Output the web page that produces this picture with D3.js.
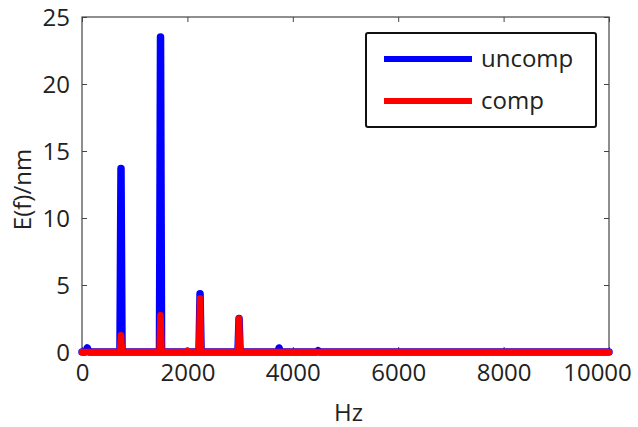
<!DOCTYPE html>
<html><head><meta charset="utf-8">
<script src="https://cdn.jsdelivr.net/npm/d3@7"></script>
<style>
html,body{margin:0;padding:0;background:#fff;}
svg text{font-family:"Open Sans","Noto Sans",sans-serif;fill:#222;}
</style></head>
<body><svg id="chart" width="638" height="427"></svg>
<script>
// ---- data ----
const seriesNames = ["uncomp", "comp"];
const freqUncomp = [0, 70, 100, 130, 720, 740, 760, 1470, 1490, 1510, 2220, 2240, 2260, 2960, 2980, 3000, 3720, 3740, 3760, 4460, 4480, 4500, 10000];
const valUncomp  = [0, 0, 0.3, 0, 0, 13.7, 0, 0, 23.5, 0, 0, 4.35, 0, 0, 2.5, 0, 0, 0.3, 0, 0, 0.1, 0, 0];
const freqComp   = [0, 720, 740, 760, 1470, 1490, 1510, 1990, 2000, 2010, 2220, 2240, 2260, 2960, 2980, 3000, 10000];
const valComp    = [0, 0, 1.25, 0, 0, 2.75, 0, 0, 0.1, 0, 0, 4.0, 0, 0, 2.5, 0, 0];
const xTicks = [0, 2000, 4000, 6000, 8000, 10000];
const yTicks = [0, 5, 10, 15, 20, 25];
const xLabel = "Hz";
const yLabel = "E(f)/nm";

const svg = d3.select("#chart");
const L = 82, R = 609, T = 17, B = 352;
const x = d3.scaleLinear().domain([0, 10000]).range([L, R]);
const y = d3.scaleLinear().domain([0, 25]).range([B, T]);

// box
svg.append("rect").attr("x", L).attr("y", T).attr("width", R - L).attr("height", B - T)
  .attr("fill", "none").attr("stroke", "#444").attr("stroke-width", 1.2);

// axes (ticks inward)
const fmt = d3.format("d");
const gx = svg.append("g").attr("transform", `translate(0,${B})`)
  .call(d3.axisBottom(x).tickValues(xTicks).tickFormat(fmt).tickSizeInner(-5).tickSizeOuter(0).tickPadding(12));
const gxt = svg.append("g").attr("transform", `translate(0,${T})`)
  .call(d3.axisTop(x).tickValues(xTicks).tickFormat("").tickSizeInner(-5).tickSizeOuter(0));
const gy = svg.append("g").attr("transform", `translate(${L},0)`)
  .call(d3.axisLeft(y).tickValues(yTicks).tickFormat(fmt).tickSizeInner(-5).tickSizeOuter(0).tickPadding(12));
const gyr = svg.append("g").attr("transform", `translate(${R},0)`)
  .call(d3.axisRight(y).tickValues(yTicks).tickFormat("").tickSizeInner(-5).tickSizeOuter(0));
[gx, gxt, gy, gyr].forEach(g => {
  g.select(".domain").remove();
  g.selectAll(".tick line").attr("stroke", "#444");
  g.selectAll("text").attr("font-size", 24).attr("fill", "#222")
    .style("font-family", "'Open Sans','Noto Sans',sans-serif");
});
gx.selectAll("text").attr("dy", "0.71em");
// keep the last label inside the picture, as in the reference
gx.selectAll(".tick").filter(d => d === 10000).select("text").attr("x", -12);
gy.selectAll("text").attr("dy", "0.35em");

// labels
svg.append("text").attr("x", (L + R) / 2 + 3).attr("y", 421).attr("text-anchor", "middle")
  .attr("font-size", 24).text(xLabel);
svg.append("text").attr("transform", `translate(31,${(T + B) / 2 + 5}) rotate(-90)`)
  .attr("text-anchor", "middle").attr("font-size", 24).text(yLabel);

// lines
const line = d3.line().x(d => x(d[0])).y(d => y(d[1]));
const dataU = freqUncomp.map((f, i) => [f, valUncomp[i]]);
const dataC = freqComp.map((f, i) => [f, valComp[i]]);
svg.append("path").datum(dataU).attr("d", line).attr("fill", "none")
  .attr("stroke", "#0000ff").attr("stroke-width", 7.5)
  .attr("stroke-linejoin", "round").attr("stroke-linecap", "round");
svg.append("path").datum(dataC).attr("d", line).attr("fill", "none")
  .attr("stroke", "#ff0000").attr("stroke-width", 6.5)
  .attr("stroke-linejoin", "round").attr("stroke-linecap", "round");

// legend
const lg = svg.append("g");
lg.append("rect").attr("x", 366).attr("y", 33).attr("width", 230).attr("height", 94)
  .attr("rx", 2).attr("fill", "#fff").attr("stroke", "#111").attr("stroke-width", 2);
const colors = ["#0000ff", "#ff0000"];
const rowY = [59, 101];
seriesNames.forEach((name, i) => {
  lg.append("line").attr("x1", 384).attr("x2", 472).attr("y1", rowY[i]).attr("y2", rowY[i])
    .attr("stroke", colors[i]).attr("stroke-width", 6);
  lg.append("text").attr("x", 481).attr("y", rowY[i]).attr("dy", "0.32em")
    .attr("font-size", 24).text(name);
});
</script></body></html>
